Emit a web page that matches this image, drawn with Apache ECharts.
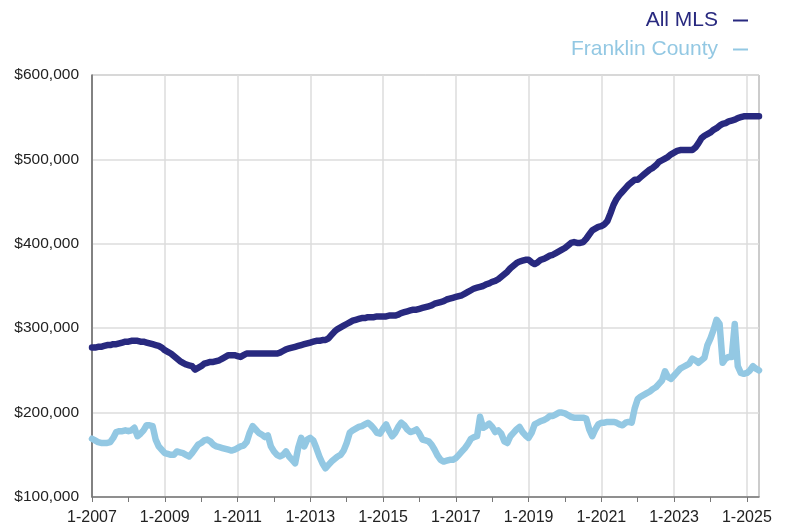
<!DOCTYPE html>
<html>
<head>
<meta charset="utf-8">
<title>Median price</title>
<script src="https://cdn.jsdelivr.net/npm/echarts@6/dist/echarts.min.js"></script>
<style>
  html, body { margin: 0; padding: 0; background: #fff; }
  #chart { width: 788px; height: 527px; }
</style>
</head>
<body>
<div id="chart"></div>
<script>
// monthly values in $ thousands, Jan 2007 .. May 2025
var allMls = [
  277,277,278,278,279,280,280,281,281,282,283,284,
  284,285,285,285,284,284,283,282,281,280,279,277,
  274,272,270,267,264,261,259,257,256,255,251,253,
  255,258,259,260,260,261,262,264,266,268,268,268,
  267,266,268,270,270,270,270,270,270,270,270,270,
  270,270,271,273,275,276,277,278,279,280,281,282,
  283,284,285,285,286,286,288,292,296,299,301,303,
  305,307,309,310,311,312,312,313,313,313,314,314,
  314,314,315,315,315,316,318,319,320,321,322,322,
  323,324,325,326,327,329,330,331,332,334,335,336,
  337,338,339,341,343,345,347,348,349,350,352,353,
  355,356,358,361,364,367,371,374,377,379,380,381,
  381,378,376,378,381,382,384,386,387,389,391,393,
  395,398,401,402,401,401,402,406,411,416,418,420,
  421,423,427,436,446,453,458,462,466,470,473,476,
  476,479,482,485,488,490,493,497,499,501,503,506,
  508,510,511,511,511,511,511,514,519,525,528,530,
  532,535,537,540,542,543,545,546,547,549,550,551,
  551,551,551,551,551
];
var franklin = [
  169,167,165,164,164,164,165,170,177,178,178,179,
  178,179,182,172,175,179,185,185,184,168,160,156,
  152,151,150,150,154,153,152,150,148,152,157,162,
  164,167,168,166,162,160,159,158,157,156,155,156,
  158,160,161,165,176,184,180,176,174,171,173,160,
  154,150,148,150,154,148,144,140,158,170,160,168,
  170,167,158,148,140,134,138,142,145,148,150,155,
  164,176,179,181,183,184,186,188,185,181,176,175,
  181,186,178,172,176,183,188,185,180,177,178,180,
  175,168,167,166,162,156,149,144,142,143,144,144,
  146,150,154,158,163,169,171,172,195,182,184,187,
  183,177,179,175,166,164,172,176,180,183,177,173,
  170,176,186,188,190,191,193,196,196,198,200,200,
  199,197,195,194,194,194,194,193,180,172,180,186,
  188,188,189,189,189,188,186,185,188,189,188,205,
  216,219,221,223,225,228,230,234,238,249,242,240,
  244,248,252,254,256,258,264,262,259,262,265,280,
  288,298,310,305,259,264,266,266,305,255,247,246,
  247,250,255,252,250
];
var startYear = 2007;
var months = [];
for (var i = 0; i < allMls.length; i++) {
  months.push((i % 12 + 1) + '-' + (startYear + Math.floor(i / 12)));
}
var seriesNames = ['All MLS', 'Franklin County'];
var colors = ['#28297f', '#93c8e3'];

var myChart = echarts.init(document.getElementById('chart'));
var font = 'Liberation Sans, Arial, Helvetica, sans-serif';
var option = {
  animation: false,
  legend: {
    orient: 'vertical',
    right: 35,
    top: 5,
    align: 'right',
    itemGap: 8,
    itemWidth: 15,
    itemHeight: 2,
    icon: 'rect',
    data: [
      { name: seriesNames[0], textStyle: { color: colors[0] } },
      { name: seriesNames[1], textStyle: { color: colors[1] } }
    ],
    textStyle: { fontSize: 21, fontFamily: font, padding: [0, 10, 0, 0] }
  },
  grid: {
    left: 92, right: 29, top: 75, bottom: 30,
    show: true, borderColor: '#999', borderWidth: 1
  },
  xAxis: {
    type: 'category',
    data: months,
    boundaryGap: false,
    axisLine: { lineStyle: { color: '#777', width: 1.5 } },
    axisTick: {
      interval: function (idx) { return idx % 12 === 0; },
      length: 5,
      lineStyle: { color: '#777' }
    },
    axisLabel: {
      interval: function (idx) { return idx % 24 === 0; },
      color: '#222', fontSize: 16, fontFamily: font, margin: 13
    },
    splitLine: {
      show: true,
      interval: function (idx) { return idx % 24 === 0; },
      lineStyle: { color: '#ddd', width: 1.5 }
    }
  },
  yAxis: {
    type: 'value',
    min: 100000, max: 600000, interval: 100000,
    axisLine: { show: true, lineStyle: { color: '#666', width: 1.5 } },
    axisTick: { show: false },
    axisLabel: {
      color: '#222', fontSize: 15.5, fontFamily: font, margin: 13,
      formatter: function (v) { return '$' + v.toLocaleString('en-US'); }
    },
    splitLine: { lineStyle: { color: '#ddd', width: 1.5 } }
  },
  series: [
    {
      name: seriesNames[1], type: 'line', symbol: 'none',
      data: franklin.map(function (v) { return v * 1000; }),
      lineStyle: { color: colors[1], width: 6.5, join: 'round', cap: 'round' },
      itemStyle: { color: colors[1] }
    },
    {
      name: seriesNames[0], type: 'line', symbol: 'none',
      data: allMls.map(function (v) { return v * 1000; }),
      lineStyle: { color: colors[0], width: 6.5, join: 'round', cap: 'round' },
      itemStyle: { color: colors[0] }
    }
  ]
};
myChart.setOption(option);
</script>
</body>
</html>
